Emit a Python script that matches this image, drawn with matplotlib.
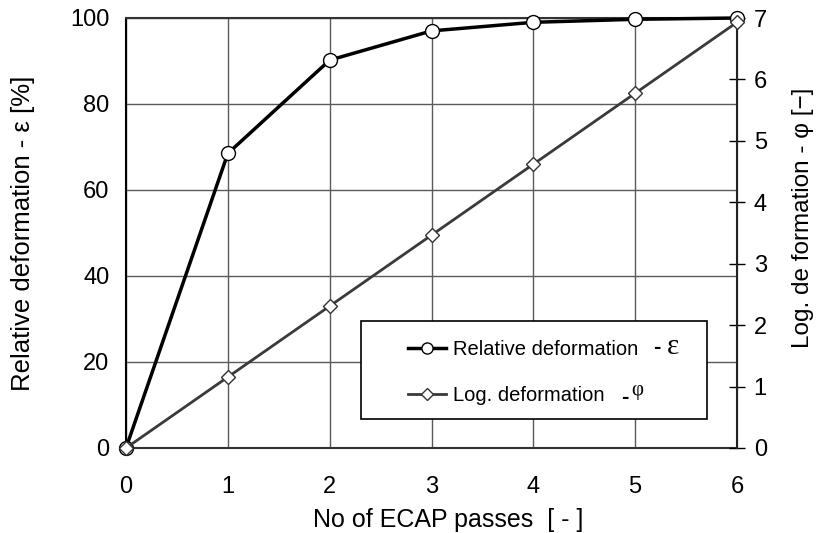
import matplotlib
matplotlib.use("Agg")
import matplotlib.pyplot as plt
from matplotlib.lines import Line2D
from matplotlib.patches import Rectangle

plt.rcParams['font.family'] = ['Liberation Sans', 'DejaVu Sans']

passes = [0, 1, 2, 3, 4, 5, 6]
rel_def = [0, 68.5, 90.2, 97.0, 99.0, 99.7, 100.0]
log_def = [0, 1.155, 2.31, 3.465, 4.62, 5.775, 6.93]

x_ticks = [0, 1, 2, 3, 4, 5, 6]
y_ticks = [0, 20, 40, 60, 80, 100]
y2_ticks = [0, 1, 2, 3, 4, 5, 6, 7]

fig = plt.figure(figsize=(8.18, 5.33), dpi=100)
ax = fig.add_axes([126/818, 1-448/533, 611/818, 430/533])
ax2 = ax.twinx()

ax.set_xlim(0, 6)
ax.set_ylim(0, 100)
ax2.set_ylim(0, 7)
ax.set_xticks(x_ticks)
ax.set_yticks(y_ticks)
ax2.set_yticks(y2_ticks)

ax.grid(True, color='#5a5a5a', linewidth=1.0)
ax.set_axisbelow(True)
for s in ['top', 'bottom']:
    ax.spines[s].set_color('#333333')
    ax.spines[s].set_linewidth(1.5)
ax.spines['left'].set_color('black')
ax.spines['left'].set_linewidth(1.5)
ax2.spines['right'].set_color('#222222')
ax2.spines['right'].set_linewidth(1.5)
for s in ['top', 'bottom', 'left']:
    ax2.spines[s].set_visible(False)

ax.tick_params(axis='x', length=0, labelsize=17, pad=20)
ax.tick_params(axis='y', direction='in', length=0, labelsize=17, pad=12)
ax2.tick_params(axis='y', direction='inout', length=12, width=1, labelsize=17, pad=6)

l1, = ax2.plot(passes, [v * 7 / 100 for v in rel_def], color='black', linewidth=2.5,
               marker='o', markersize=10, markerfacecolor='white',
               markeredgecolor='black', markeredgewidth=1.0, clip_on=False, zorder=3)
l2, = ax2.plot(passes, log_def, color='#3a3a3a', linewidth=2.0, marker='D',
               markersize=7, markerfacecolor='white', markeredgecolor='#333333',
               markeredgewidth=1.0, clip_on=False, zorder=4)

ax.set_xlabel('No of ECAP passes  [ - ]', fontsize=18, labelpad=7, x=0.527)
ax.set_ylabel('Relative deformation - ε [%]', fontsize=18.5, labelpad=25)
ax2.set_ylabel('Log. de formation - φ [−]', fontsize=17.5, labelpad=18, y=0.535)

# legend box
box = Rectangle((0.385, 0.067), 0.566, 0.228, transform=ax2.transAxes,
                facecolor='white', edgecolor='black', linewidth=1.2, zorder=9)
ax2.add_patch(box)

h1 = Line2D([], [], color='black', linewidth=2.5, marker='o', markersize=8,
            markerfacecolor='white', markeredgecolor='black')
h2 = Line2D([], [], color='#3a3a3a', linewidth=2.0, marker='D', markersize=6,
            markerfacecolor='white', markeredgecolor='#333333')
leg = ax2.legend([h1, h2], ['Relative deformation', 'Log. deformation'],
                 loc='upper left', bbox_to_anchor=(0.4615, 0.251),
                 fontsize=14.5, frameon=False, handlelength=1.9, borderpad=0,
                 labelspacing=1.35, borderaxespad=0, handletextpad=0.35)
leg.set_zorder(10)

ax2.text(0.862, 0.233, '-', transform=ax2.transAxes, fontsize=16, fontweight='bold',
         ha='left', va='center', zorder=11)
ax2.text(0.885, 0.236, 'ε', transform=ax2.transAxes, fontsize=21,
         family=['Liberation Serif', 'DejaVu Serif'], ha='left', va='center', zorder=11)
ax2.text(0.810, 0.118, '-', transform=ax2.transAxes, fontsize=16, fontweight='bold',
         ha='left', va='center', zorder=11)
ax2.text(0.827, 0.133, 'φ', transform=ax2.transAxes, fontsize=15,
         family=['Liberation Serif', 'DejaVu Serif'], ha='left', va='center', zorder=11)

fig.savefig('out.png', dpi=100)
